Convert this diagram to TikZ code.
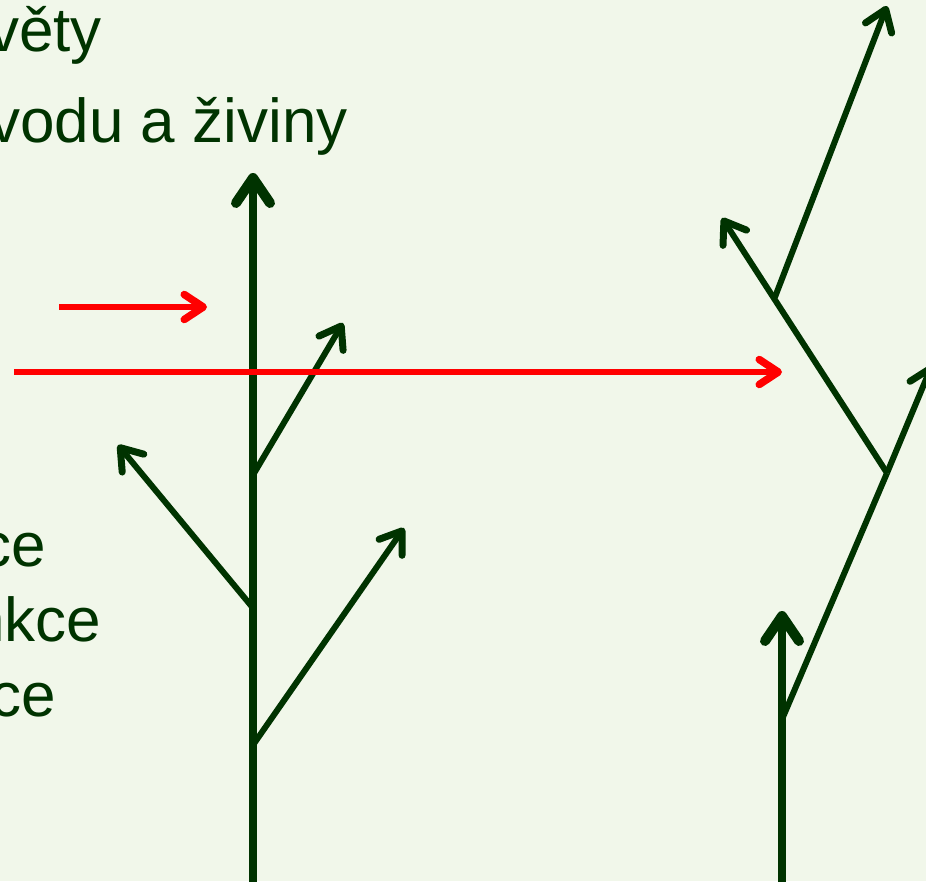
\documentclass[tikz,border=0pt]{standalone}
\usepackage{fontspec}
\setmainfont{Liberation Sans}
\usetikzlibrary{arrows.meta}
\definecolor{bgc}{HTML}{F1F7EA}
\definecolor{plant}{HTML}{003300}
\definecolor{redc}{HTML}{FF0000}
\tikzset{
  txt/.style={anchor=base west, inner sep=0pt, text=plant, font=\fontsize{62}{74}\selectfont},
  stem/.style={draw=plant, line width=8.5pt, -{Straight Barb[length=25pt,width=34pt,line width=10pt,round]}},
  branch/.style={draw=plant, line width=6pt, -{Straight Barb[length=20pt,width=28pt,line width=7pt,round]}},
  branchline/.style={draw=plant, line width=6pt},
  redarrow/.style={draw=redc, line width=6pt, -{Straight Barb[length=19pt,width=25pt,line width=7.5pt,round]}}
}
\begin{document}
\begin{tikzpicture}[x=1pt,y=-1pt]
\fill[bgc] (0,0) rectangle (926,881);
\useasboundingbox (0,0) rectangle (926,881);
% texts
\node[txt] (t1) at (-12,51) {věty};
\node[txt] (t2) at (-11,142) {vodu a živiny};
\node[txt] (t3) at (-20,566) {ce};
\node[txt] (t4) at (-30,641) {nkce};
\node[txt] (t5) at (-10,716) {ce};
% left plant
\coordinate (Lbot) at (253,895);
\coordinate (Ltip) at (253,173);
\coordinate (Lj1) at (253,475);
\coordinate (Lb1) at (343,323);
\coordinate (Lj2) at (253,608);
\coordinate (Lb2) at (118,445);
\coordinate (Lj3) at (253,745);
\coordinate (Lb3) at (404,528);
\draw[stem] (Lbot) -- (Ltip);
\draw[branch] (Lj1) -- (Lb1);
\draw[branch] (Lj2) -- (Lb2);
\draw[branch] (Lj3) -- (Lb3);
% right plant
\coordinate (Rbot) at (782,895);
\coordinate (Rtip) at (782,611);
\coordinate (Rj1) at (783,717);
\coordinate (Rj2) at (887,473);
\coordinate (Rb1) at (932,365);
\coordinate (Rb2) at (722,218);
\coordinate (Rj3) at (775,297);
\coordinate (Rb3) at (887,6);
\draw[stem] (Rbot) -- (Rtip);
\draw[branchline] (Rj1) -- (Rj2);
\draw[branch] (Rj2) -- (Rb1);
\draw[branch] (Rj2) -- (Rb2);
\draw[branch] (Rj3) -- (Rb3);
% red arrows
\coordinate (r1s) at (59,307);
\coordinate (r1e) at (207,307);
\coordinate (r2s) at (14,372);
\coordinate (r2e) at (782,372);
\draw[redarrow] (r1s) -- (r1e);
\draw[redarrow] (r2s) -- (r2e);
\end{tikzpicture}
\end{document}
